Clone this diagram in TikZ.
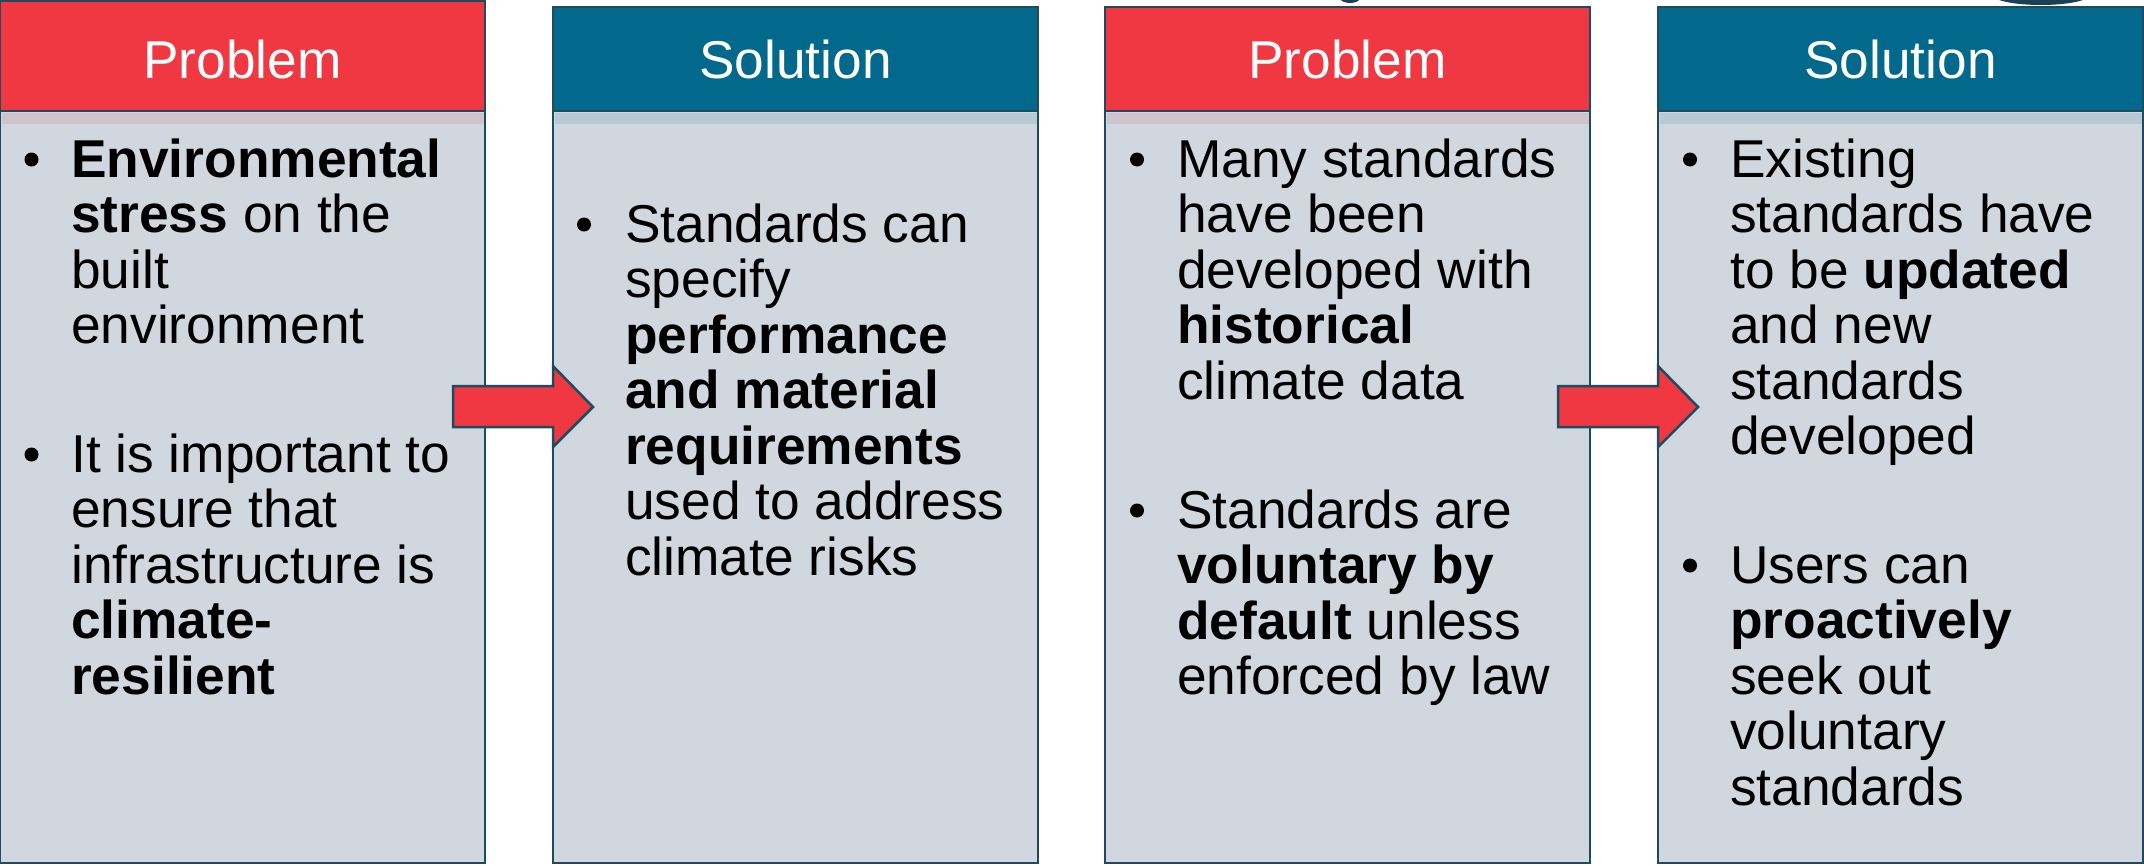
\documentclass[tikz,border=0pt]{standalone}
\usepackage{fontspec}
\setmainfont{Liberation Sans}
\definecolor{probred}{HTML}{EF3841}
\definecolor{solblue}{HTML}{03698C}
\definecolor{bodygray}{HTML}{D0D7DF}
\definecolor{bandred}{HTML}{CFC4CC}
\definecolor{bandblue}{HTML}{B7CAD4}
\definecolor{edge}{HTML}{1F4B60}
\definecolor{blob}{HTML}{1B3F56}
\tikzset{
	frame/.style={draw=edge, line width=2.5pt},
	headtxt/.style={text=white, anchor=base, inner sep=0pt, font=\fontsize{53.2}{55.5}\selectfont},
	bodytxt/.style={anchor=base west, align=left, inner sep=0pt, font=\fontsize{53.3}{55.5}\selectfont},
	blockarrow/.style={fill=probred, draw=edge, line width=2.5pt, line join=miter}
}
\begin{document}
\begin{tikzpicture}[x=1pt,y=-1pt]
		\useasboundingbox (0,0) rectangle (2144,865);
		\fill[white] (0,0) rectangle (2144,865);
		\fill[blob] (1350,-2) ellipse (10 and 5);
		\fill[blob] (2041,-6) ellipse (50 and 11);
		\foreach \x/\y/\c/\b/\t/\n in {0/1/probred/bandred/Problem/1, 553/7/solblue/bandblue/Solution/2, 1105/7/probred/bandred/Problem/3, 1658/7/solblue/bandblue/Solution/4} {
			\draw[frame, fill=bodygray] (\x,111) rectangle ++(485,752);
			\fill[\b] (\x+1.5,112.5) rectangle ++(482,11);
			\draw[frame, fill=\c] (\x,\y) rectangle (\x+485,111);
			\node[headtxt] (head\n) at (\x+242.5,78) {\t};
		}
		\foreach \s in {0,1105}
			\draw[blockarrow] (453+\s,386) -- (553+\s,386) -- (553+\s,366) -- (593+\s,407) -- (553+\s,447) -- (553+\s,427) -- (453+\s,427) -- cycle;
		\foreach \bx/\by in {31.5/159.5, 31.5/454.5, 584/224.5, 1137/159.5, 1137/510.5, 1690/159.5, 1690/565.5}
			\fill (\bx,\by) circle (7);
		% nodes are anchored at the baseline of their last line
		\node[bodytxt] (env) at (71,343.5) {\textbf{Environmental}\\\textbf{stress} on the\\built\\environment};
		\node[bodytxt] (resil) at (71,694) {It is important to\\ensure that\\infrastructure is\\\textbf{climate-}\\\textbf{resilient}};
		\node[bodytxt] (spec) at (625,575) {Standards can\\specify\\\textbf{performance}\\\textbf{and material}\\\textbf{requirements}\\used to address\\climate risks};
		\node[bodytxt] (hist) at (1177,399) {Many standards\\have been\\developed with\\\textbf{historical}\\climate data};
		\node[bodytxt] (volun) at (1177,694.5) {Standards are\\\textbf{voluntary by}\\\textbf{default} unless\\enforced by law};
		\node[bodytxt] (upd) at (1730,454.5) {Existing\\standards have\\to be \textbf{updated}\\and new\\standards\\developed};
		\node[bodytxt] (users) at (1730,805) {Users can\\\textbf{proactively}\\seek out\\voluntary\\standards};
	\end{tikzpicture}
\end{document}
